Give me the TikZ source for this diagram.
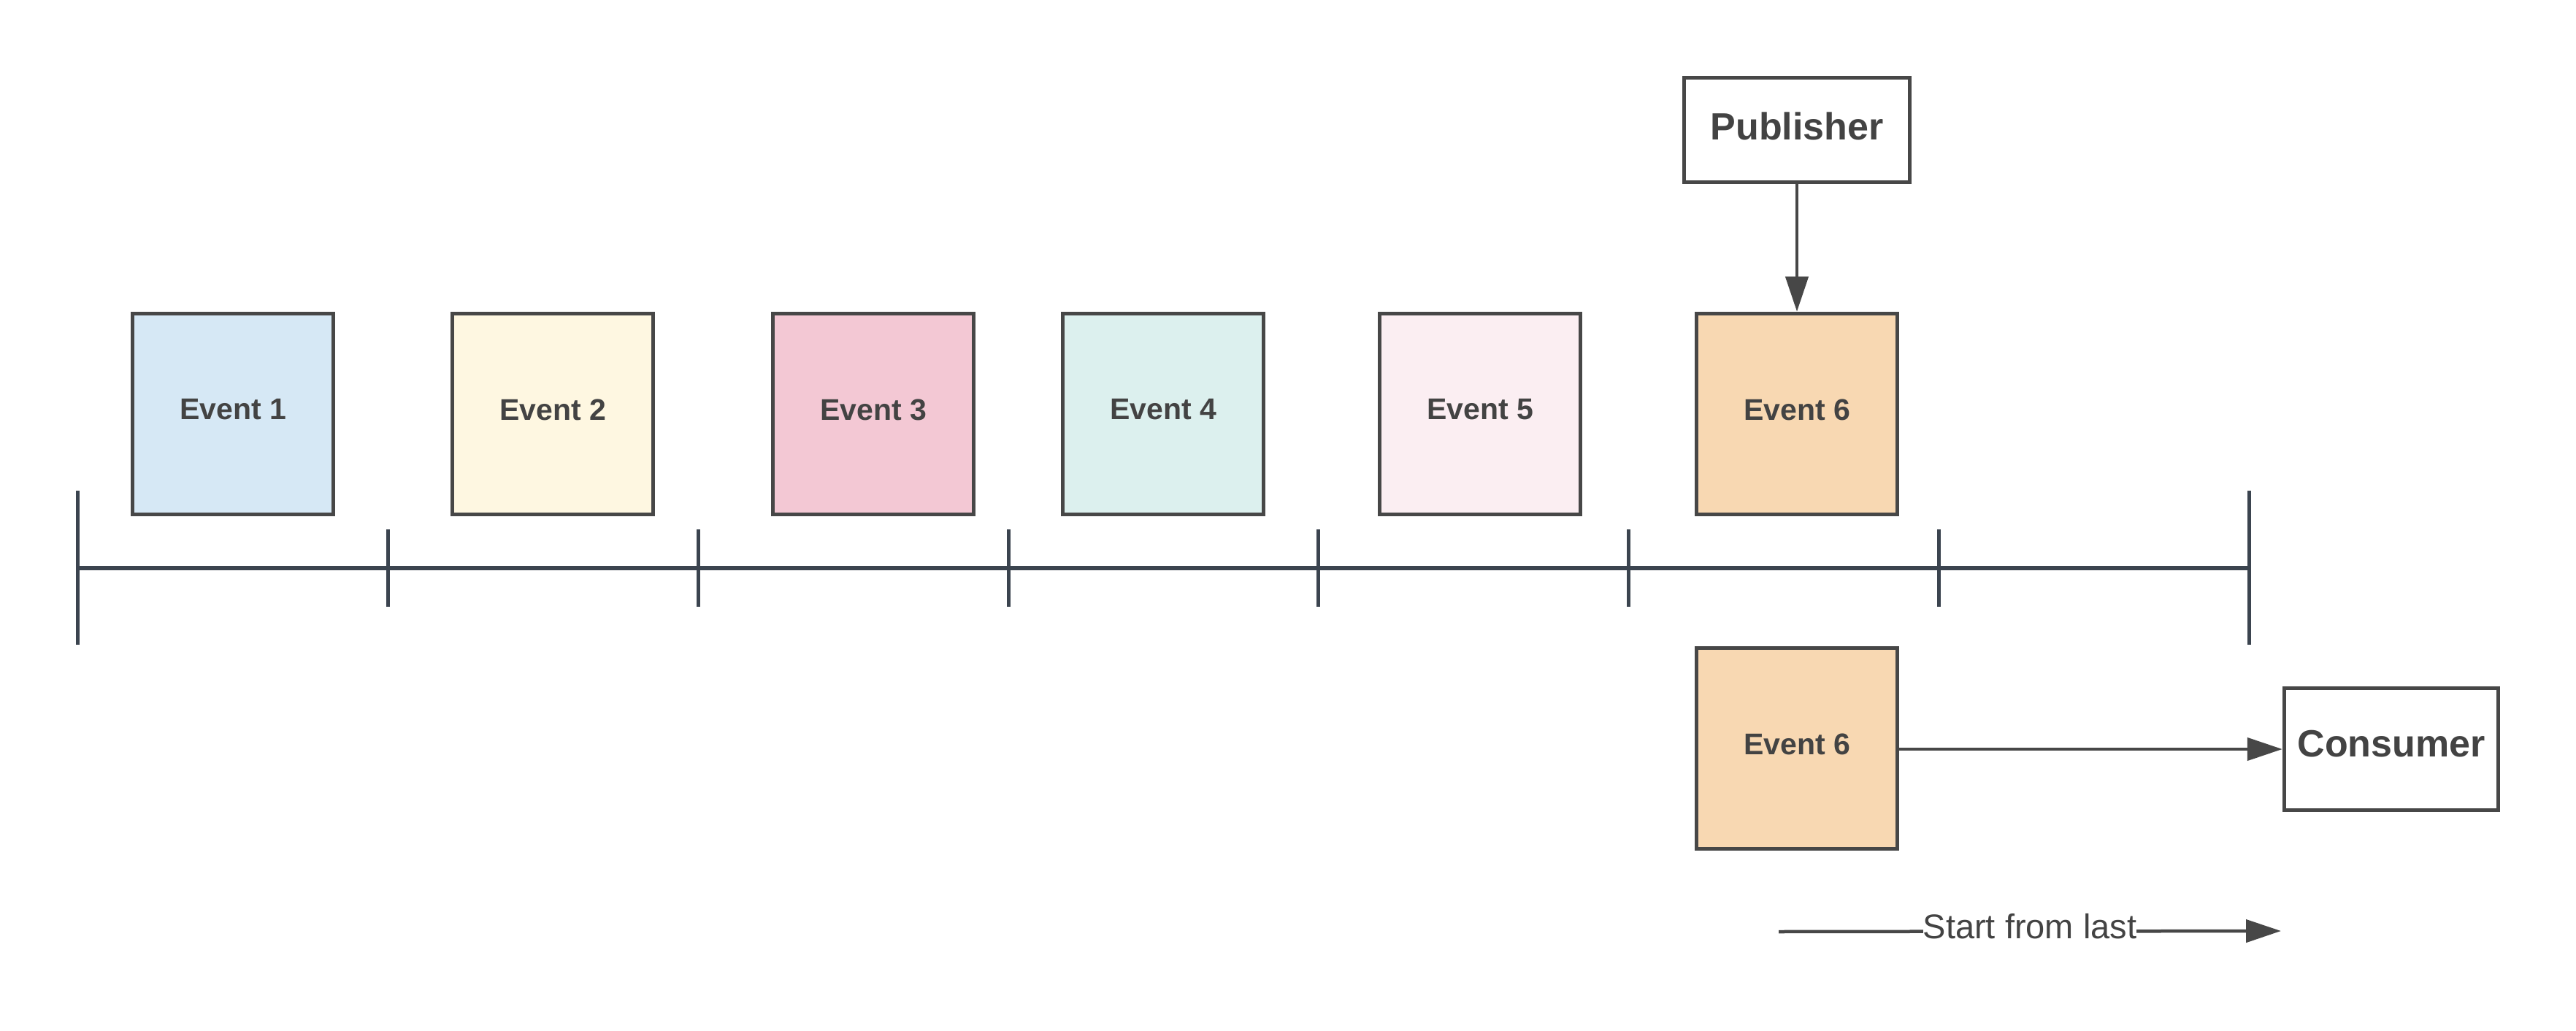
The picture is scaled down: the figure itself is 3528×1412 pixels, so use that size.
\documentclass[tikz,border=0pt]{standalone}
\usepackage{fontspec}
\setmainfont{Liberation Sans}
\usetikzlibrary{arrows.meta}
\definecolor{boxc}{HTML}{474747}
\definecolor{txt}{HTML}{434343}
\definecolor{tlc}{HTML}{3B444F}
\definecolor{ev1}{HTML}{D6E8F5}
\definecolor{ev2}{HTML}{FEF7E1}
\definecolor{ev3}{HTML}{F3C8D4}
\definecolor{ev4}{HTML}{DCF0EE}
\definecolor{ev5}{HTML}{FBEEF2}
\definecolor{ev6}{HTML}{F8D8B2}
\tikzset{
  evbox/.style={draw=boxc, line width=5.5pt, minimum width=275pt, minimum height=275pt,
    inner sep=0pt, text=txt, font=\fontsize{41pt}{48pt}\selectfont\bfseries},
  evtext/.style={text=txt, inner sep=0pt, font=\fontsize{41pt}{48pt}\selectfont\bfseries},
  actor/.style={draw=boxc, line width=5.5pt, fill=white, inner sep=0pt},
  actortext/.style={text=txt, inner sep=0pt, font=\fontsize{52pt}{60pt}\selectfont\bfseries},
  tline/.style={draw=tlc, line width=6pt},
  tick/.style={draw=tlc, line width=5pt},
  conn/.style={draw=boxc, line width=4.5pt, -{Triangle[length=48pt,width=31pt]}},
}
\begin{document}
\begin{tikzpicture}[x=1pt,y=-1pt]
\useasboundingbox (0,0) rectangle (3528,1412);
% timeline
\coordinate (tl0) at (106,778);
\coordinate (tl7) at (3080,778);
\draw[tline] (tl0) -- (tl7);
\draw[tick] (106,672) -- (106,883);
\draw[tick] (3080,672) -- (3080,883);
\foreach \x in {531,956,1381,1805,2230,2655}{
  \draw[tick] (\x,725) -- (\x,831);
}
% events
\node[evbox, fill=ev1] (e1) at (319,567) {};
\node[evbox, fill=ev2] (e2) at (757,567) {};
\node[evbox, fill=ev3] (e3) at (1196,567) {};
\node[evbox, fill=ev4] (e4) at (1593,567) {};
\node[evbox, fill=ev5] (e5) at (2027,567) {};
\node[evbox, fill=ev6] (e6) at (2461,567) {};
\node[evbox, fill=ev6] (e6b) at (2461,1025) {};
\node[evtext] (t1) at (319,561) {Event 1};
\node[evtext] (t2) at (757,561) {Event 2};
\node[evtext] (t3) at (1196,561) {Event 3};
\node[evtext] (t4) at (1593,561) {Event 4};
\node[evtext] (t5) at (2027,561) {Event 5};
\node[evtext] (t6) at (2461,561) {Event 6};
\node[evtext] (t6b) at (2461,1019) {Event 6};
% publisher / consumer
\node[actor, minimum width=309pt, minimum height=143pt] (pub) at (2461,178) {};
\node[actortext] (pubt) at (2461,173) {Publisher};
\node[actor, minimum width=293pt, minimum height=167pt] (con) at (3275,1026) {};
\node[actortext] (cont) at (3275,1019) {Consumer};
\draw[conn] (pub.south) -- (e6.north);
\draw[conn] (e6b.east |- con.west) -- (con.west);
% start from last
\coordinate (s0) at (2436,1276);
\coordinate (s1) at (3124,1275);
\draw[conn] (s0) -- (s1) node[pos=0.5, fill=white, inner sep=0pt, text=txt,
  font=\fontsize{47pt}{56pt}\selectfont, yshift=7pt] (lbl) {Start from last};
\end{tikzpicture}
\end{document}
